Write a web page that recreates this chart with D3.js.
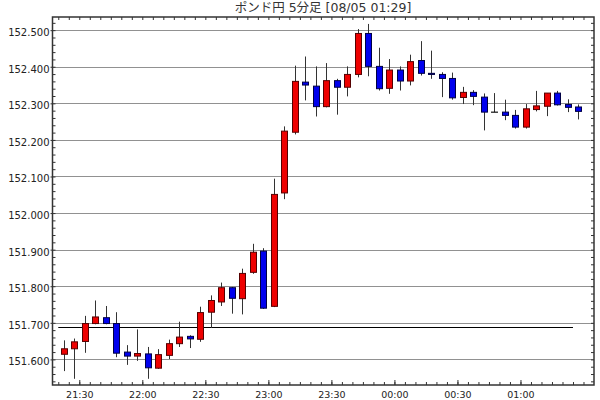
<!DOCTYPE html>
<html lang="ja">
<head>
<meta charset="UTF-8" />
<title>ポンド円 5分足</title>
<script src="https://d3js.org/d3.v7.js"></script>
<style>
    body { margin: 0; background: #fff; }
    svg { display: block; }
</style>
</head>
<body>
<script>
    // 5 minute candles, 21:20 - 01:25
    var times = ["21:20","21:25","21:30","21:35","21:40","21:45","21:50","21:55",
                 "22:00","22:05","22:10","22:15","22:20","22:25","22:30","22:35",
                 "22:40","22:45","22:50","22:55","23:00","23:05","23:10","23:15",
                 "23:20","23:25","23:30","23:35","23:40","23:45","23:50","23:55",
                 "00:00","00:05","00:10","00:15","00:20","00:25","00:30","00:35",
                 "00:40","00:45","00:50","00:55","01:00","01:05","01:10","01:15",
                 "01:20","01:25"];
    var opens = [151.614,151.629,151.649,151.698,151.714,151.698,151.620,151.609,
                 151.615,151.576,151.611,151.643,151.663,151.655,151.729,151.757,
                 151.796,151.766,151.838,151.896,151.745,152.055,152.221,152.358,
                 152.347,152.291,152.362,152.344,152.379,152.491,152.401,152.341,
                 152.391,152.361,152.417,152.382,152.379,152.368,152.316,152.330,
                 152.317,152.276,152.276,152.267,152.235,152.283,152.292,152.328,
                 152.297,152.290];
    var highs = [151.652,151.657,151.719,151.761,151.746,151.729,151.639,151.682,
                 151.634,151.628,151.654,151.703,151.666,151.744,151.775,151.810,
                 151.798,151.848,151.916,151.904,152.094,152.237,152.403,152.428,
                 152.401,152.410,152.367,152.401,152.503,152.517,152.452,152.421,
                 152.401,152.433,152.470,152.444,152.385,152.384,152.345,152.336,
                 152.327,152.328,152.310,152.282,152.298,152.334,152.328,152.334,
                 152.311,152.297];
    var lows = [151.568,151.547,151.618,151.696,151.696,151.606,151.585,151.596,
                151.547,151.574,151.601,151.634,151.631,151.648,151.686,151.746,
                151.725,151.723,151.834,151.738,151.743,152.038,152.215,152.308,
                152.264,152.289,152.269,152.319,152.371,152.374,152.335,152.326,
                152.335,152.349,152.376,152.367,152.317,152.310,152.298,152.295,
                152.226,152.276,152.254,152.231,152.231,152.278,152.265,152.294,
                152.276,152.256];
    var closes = [151.629,151.648,151.698,151.716,151.698,151.617,151.609,151.616,
                  151.577,151.613,151.643,151.661,151.656,151.728,151.761,151.796,
                  151.767,151.835,151.893,151.740,152.051,152.224,152.360,152.350,
                  152.291,152.362,152.344,152.379,152.491,152.401,152.340,152.391,
                  152.361,152.414,152.382,152.379,152.368,152.315,152.330,152.319,
                  152.276,152.276,152.267,152.235,152.285,152.293,152.328,152.296,
                  152.289,152.278];
    var xTickLabels = ["21:30","22:00","22:30","23:00","23:30","00:00","00:30","01:00"];
    var yTickLabels = [151.6,151.7,151.8,151.9,152.0,152.1,152.2,152.3,152.4,152.5];
    var refPrice = 151.688;
    var title = "ポンド円 5分足 [08/05 01:29]";

    var w = 600;
    var h = 400;
    var plotL = 52.5, plotR = 594, plotT = 17, plotB = 385;

    // times after midnight belong to the next day
    function toDate(s) {
        var p = s.split(":");
        var hh = +p[0], mm = +p[1];
        var day = hh < 12 ? 5 : 4;
        return new Date(2024, 7, day, hh, mm, 0);
    }

    var candles = times.map(function(t, i) {
        return {t: toDate(t), o: opens[i], h: highs[i], l: lows[i], c: closes[i]};
    });

    var svg = d3.select("body")
                .append("svg")
                .attr("width", w)
                .attr("height", h);

    var xScale = d3.scaleTime()
        .domain([new Date(2024, 7, 4, 21, 17, 15), new Date(2024, 7, 5, 1, 35, 0)])
        .range([plotL, plotR]);

    var yScale = d3.scaleLinear()
        .domain([151.53, 152.536])
        .range([plotB, plotT]);

    // candle centre sits in the middle of its 5 minutes
    function cx(d) {
        return xScale(new Date(d.t.getTime() + 150000));
    }

    // dotted grid
    svg.append("g")
        .selectAll("line")
        .data(yTickLabels)
        .enter()
        .append("line")
        .attr("x1", plotL)
        .attr("x2", plotR)
        .attr("y1", function(d){ return Math.round(yScale(d)) + 0.5; })
        .attr("y2", function(d){ return Math.round(yScale(d)) + 0.5; })
        .attr("stroke", "#222")
        .attr("stroke-width", 1)
        .attr("stroke-dasharray", "1,1");

    // reference line (start price)
    svg.append("line")
        .attr("x1", xScale(candles[0].t))
        .attr("x2", xScale(candles[candles.length - 1].t))
        .attr("y1", Math.round(yScale(refPrice)) + 0.5)
        .attr("y2", Math.round(yScale(refPrice)) + 0.5)
        .attr("stroke", "#000")
        .attr("stroke-width", 1);

    // wicks
    svg.append("g")
        .selectAll("line")
        .data(candles)
        .enter()
        .append("line")
        .attr("x1", function(d){ return Math.round(cx(d)) + 0.5; })
        .attr("x2", function(d){ return Math.round(cx(d)) + 0.5; })
        .attr("y1", function(d){ return yScale(d.h); })
        .attr("y2", function(d){ return yScale(d.l); })
        .attr("stroke", "#333")
        .attr("stroke-width", 1);

    // bodies
    var bw = 6;
    svg.append("g")
        .selectAll("rect")
        .data(candles)
        .enter()
        .append("rect")
        .attr("x", function(d){ return Math.round(cx(d)) - bw / 2 + 0.5; })
        .attr("y", function(d){ return yScale(Math.max(d.o, d.c)); })
        .attr("width", bw)
        .attr("height", function(d){
            return Math.max(0.1, Math.abs(yScale(d.o) - yScale(d.c)));
        })
        .attr("fill", function(d){
            if (d.c > d.o) return "#ee0000";
            if (d.c < d.o) return "#0000ee";
            return "#000";
        })
        .attr("stroke", function(d){
            if (d.c > d.o) return "#550000";
            if (d.c < d.o) return "#000044";
            return "#000";
        })
        .attr("stroke-width", 1);

    // frame ticks: minor every 5 min / 0.02, major every 30 min
    var minorX = d3.timeMinute.every(5).range(xScale.domain()[0], xScale.domain()[1]);
    var majorX = xTickLabels.map(toDate);

    svg.append("g")
        .attr("transform", "translate(0," + plotB + ")")
        .call(d3.axisBottom(xScale).tickValues(minorX).tickSize(-3).tickFormat(""))
        .call(function(g){ g.select(".domain").remove(); });
    svg.append("g")
        .attr("transform", "translate(0," + plotT + ")")
        .call(d3.axisTop(xScale).tickValues(minorX).tickSize(-3).tickFormat(""))
        .call(function(g){ g.select(".domain").remove(); });

    svg.append("g")
        .attr("class", "xlab")
        .attr("transform", "translate(0," + plotB + ")")
        .call(d3.axisBottom(xScale).tickValues(majorX).tickSize(-5).tickPadding(6)
            .tickFormat(d3.timeFormat("%H:%M")))
        .call(function(g){ g.select(".domain").remove(); });

    var minorY = yScale.ticks(50);
    svg.append("g")
        .attr("transform", "translate(" + plotL + ",0)")
        .call(d3.axisLeft(yScale).tickValues(minorY).tickSize(-3).tickFormat(""))
        .call(function(g){ g.select(".domain").remove(); });
    svg.append("g")
        .attr("transform", "translate(" + plotR + ",0)")
        .call(d3.axisRight(yScale).tickValues(minorY).tickSize(-3).tickFormat(""))
        .call(function(g){ g.select(".domain").remove(); });

    svg.append("g")
        .attr("class", "ylab")
        .attr("transform", "translate(" + plotL + ",0)")
        .call(d3.axisLeft(yScale).tickValues(yTickLabels).tickSize(2).tickPadding(1)
            .tickFormat(d3.format(".3f")))
        .call(function(g){ g.select(".domain").remove(); });

    svg.selectAll(".tick line").attr("stroke", "#333");
    svg.selectAll(".xlab text, .ylab text")
        .attr("font-family", "DejaVu Sans")
        .attr("fill", "#222");
    svg.selectAll(".xlab text").attr("font-size", 9.5);
    svg.selectAll(".ylab text").attr("font-size", 10).attr("dy", "0.75em").attr("y", -2);

    // frame
    svg.append("rect")
        .attr("x", plotL)
        .attr("y", plotT)
        .attr("width", plotR - plotL)
        .attr("height", plotB - plotT)
        .attr("fill", "none")
        .attr("stroke", "#333")
        .attr("stroke-width", 1.5);

    svg.append("text")
        .attr("x", 323)
        .attr("y", 11.5)
        .attr("text-anchor", "middle")
        .attr("font-family", "DejaVu Sans, Noto Sans CJK JP")
        .attr("font-size", 12.5)
        .attr("fill", "#333")
        .text(title);
</script>
</body>
</html>
